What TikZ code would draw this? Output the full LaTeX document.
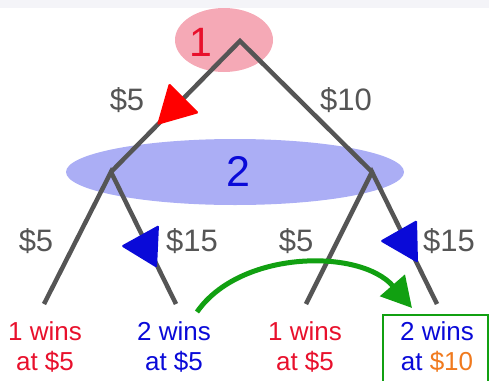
\documentclass[tikz,border=0pt]{standalone}
\usepackage{fontspec}
\setmainfont{Liberation Sans}
\usetikzlibrary{arrows.meta}
\definecolor{edgegray}{HTML}{555555}
\definecolor{pinkfill}{HTML}{F5A9B6}
\definecolor{bluefill}{HTML}{ABAEF5}
\definecolor{pred}{HTML}{E8102C}
\definecolor{pblue}{HTML}{0A0AD8}
\definecolor{porange}{HTML}{F07A1E}
\definecolor{pgreen}{HTML}{11A011}
\definecolor{stripgray}{HTML}{F4F4F8}
\tikzset{
  edge/.style={draw=edgegray, line width=4.5pt},
  elabel/.style={text=edgegray, font=\fontsize{31}{32}\selectfont, inner sep=0pt},
  leaf/.style={font=\fontsize{26}{30}\selectfont, align=center, inner sep=0pt},
  tri/.style={rounded corners=1.5pt},
}
\begin{document}
\begin{tikzpicture}[x=1pt,y=-1pt]
\useasboundingbox (0,0) rectangle (489,380);
\fill[stripgray] (0,0) rectangle (489,8);
\fill[pinkfill] (224,40) ellipse [x radius=49, y radius=32];
\fill[bluefill] (235,172) ellipse [x radius=169, y radius=33];
\node[text=pred, font=\fontsize{41}{41}\selectfont, inner sep=0pt] (p1) at (201,42) {1};
\node[text=pblue, font=\fontsize{43}{43}\selectfont, inner sep=0pt] (p2) at (238,171) {2};
\coordinate (root) at (240,41);
\coordinate (l) at (111,172);
\coordinate (r) at (372,172);
\coordinate (ll) at (44,304);
\coordinate (lr) at (176,304);
\coordinate (rl) at (306,304);
\coordinate (rr) at (437,304);
\draw[edge] (l) -- (root) -- (r);
\draw[edge] (ll) -- (l) -- (lr);
\draw[edge] (rl) -- (r) -- (rr);
\fill[red, tri] (157,125) -- (169,83) -- (199,113) -- cycle;
\fill[pblue, tri] (121,246) -- (159,225) -- (157,268) -- cycle;
\fill[pblue, tri] (380,241) -- (417,220) -- (418,263) -- cycle;
\node[elabel] (e1) at (127,100) {\$5};
\node[elabel] (e2) at (346,100) {\$10};
\node[elabel] (e3) at (36,241) {\$5};
\node[elabel] (e4) at (192,241) {\$15};
\node[elabel] (e5) at (296,241) {\$5};
\node[elabel] (e6) at (449,241) {\$15};
\node[leaf, text=pred] (t1) at (45,347) {1 wins\\at \$5};
\node[leaf, text=pblue] (t2) at (174,347) {2 wins\\at \$5};
\node[leaf, text=pred] (t3) at (305,347) {1 wins\\at \$5};
\node[leaf, text=pblue] (t4) at (437,347) {2 wins\\at \textcolor{porange}{\$10}};
\draw[pgreen, line width=1.5pt] (383,315) rectangle (488,382);
\coordinate (gs) at (197,312);
\coordinate (ge) at (412,308);
\draw[pgreen, line width=5pt, -{Triangle[length=30pt,width=32pt]}] (gs) .. controls (240,250) and (360,248) .. (ge);
\end{tikzpicture}
\end{document}
